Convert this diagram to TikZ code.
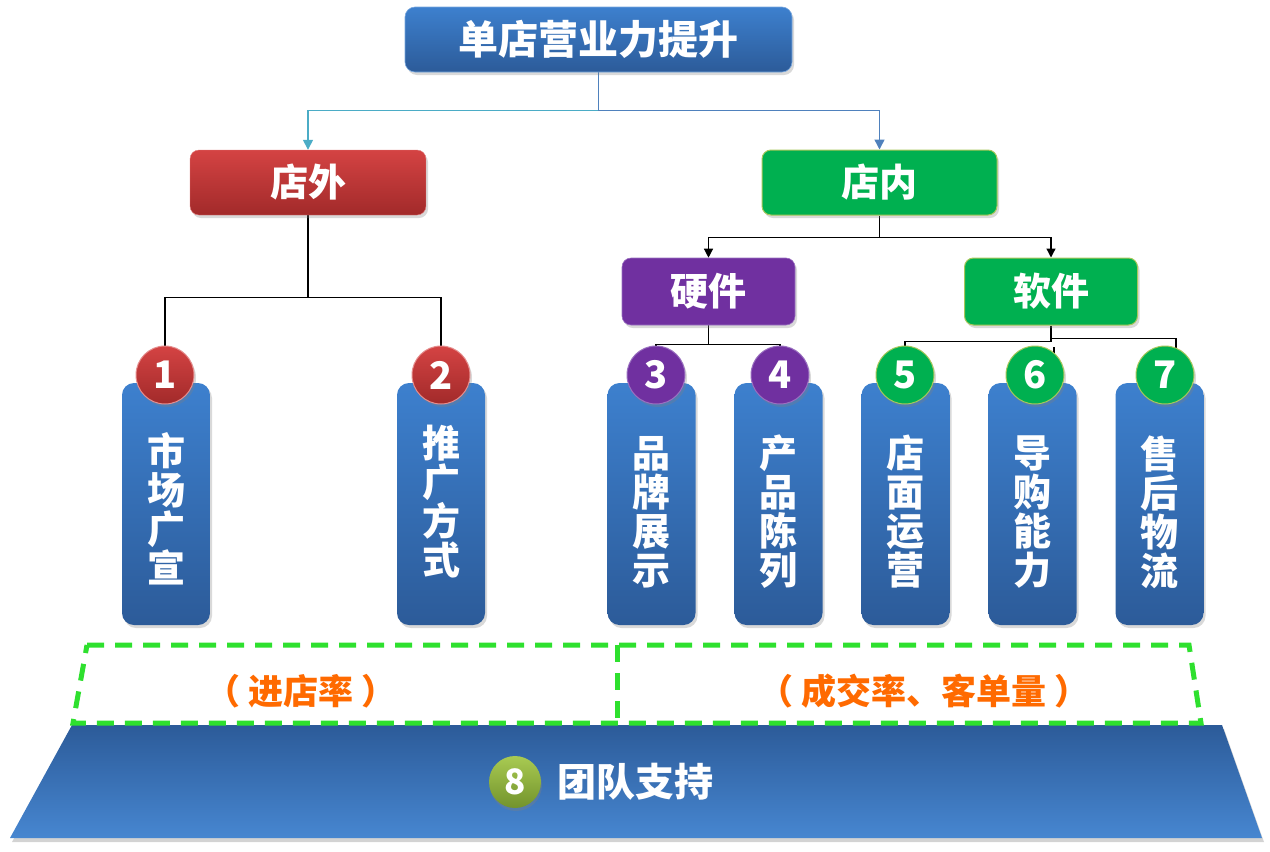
\documentclass[tikz,border=0pt]{standalone}
\usepackage{fontspec}
\setmainfont{Noto Sans CJK SC}
\usetikzlibrary{shadows,arrows.meta,backgrounds}
\definecolor{bluetop}{HTML}{3D80CE}
\definecolor{bluebot}{HTML}{2C5B99}
\definecolor{redtop}{HTML}{D44343}
\definecolor{redbot}{HTML}{A22A2A}
\definecolor{grn}{HTML}{00B050}
\definecolor{grnedge}{HTML}{A8C75A}
\definecolor{purp}{HTML}{7030A0}
\definecolor{purpedge}{HTML}{9A70C0}
\definecolor{cyanline}{HTML}{4BACC6}
\definecolor{blueline}{HTML}{4F81BD}
\definecolor{dashgreen}{HTML}{2EE02E}
\definecolor{orangetxt}{HTML}{FF6A00}
\definecolor{olivetop}{HTML}{A8CA52}
\definecolor{olivebot}{HTML}{73932C}
\begin{document}
\begin{tikzpicture}[x=1pt,y=-1pt,
  every node/.style={font=\bfseries, text=white},
  shadowed/.style={drop shadow={opacity=0.3,shadow xshift=2pt,shadow yshift=-3pt}},
  titlebox/.style={rectangle,rounded corners=10pt,top color=bluetop,bottom color=bluebot,
     draw=bluetop!70!white,line width=0.6pt,shadowed,font=\fontsize{40}{44}\bfseries},
  catbox/.style={rectangle,rounded corners=9pt,shadowed,font=\fontsize{38}{42}\bfseries},
  subbox/.style={rectangle,rounded corners=9pt,shadowed,font=\fontsize{38}{42}\bfseries,
     minimum width=173pt,minimum height=67pt},
  tallbox/.style={rectangle,rounded corners=12pt,top color=bluetop,bottom color=bluebot,
     shadowed,minimum width=88pt,minimum height=242pt,inner sep=0pt},
  talltext/.style={align=center,inner sep=0pt,font=\fontsize{38}{39}\bfseries},
  numcirc/.style={circle,minimum size=58pt,inner sep=0pt,line width=1pt,shadowed,
     font=\fontsize{38}{38}\bfseries},
  redcirc/.style={numcirc,top color=redtop,bottom color=redbot,draw=redtop!60!white},
  purpcirc/.style={numcirc,fill=purp,draw=purpedge},
  grncirc/.style={numcirc,fill=grn,draw=grnedge},
  link/.style={line width=1.3pt,black},
  blackarrow/.style={link,-{Triangle[length=9pt,width=9pt]}},
  orangelabel/.style={text=orangetxt,font=\fontsize{35}{38}\bfseries},
  dashbox/.style={draw=dashgreen,line width=5pt,dash pattern=on 17pt off 11pt}
]
\useasboundingbox (0,0) rectangle (1270,852);

% top
\node[titlebox,minimum width=387pt,minimum height=65pt] (top) at (598.5,39.5) {单店营业力提升};
\node[catbox,top color=redtop,bottom color=redbot,draw=redtop!70!white,minimum width=236pt,minimum height=65pt] (wai) at (308,182.5) {店外};
\node[catbox,fill=grn,draw=grnedge,line width=1pt,minimum width=235pt,minimum height=65pt] (nei) at (879.5,182.5) {店内};
\node[subbox,fill=purp,draw=purpedge,line width=0.6pt] (hw) at (708.5,291.5) {硬件};
\node[subbox,fill=grn,draw=grnedge,line width=1pt] (sw) at (1051,291.5) {软件};

% tall boxes
\node[tallbox] (b1) at (166,504) {};
\node[tallbox] (b2) at (441,504) {};
\node[tallbox] (b3) at (651.5,504) {};
\node[tallbox] (b4) at (778.5,504) {};
\node[tallbox] (b5) at (905.5,504) {};
\node[tallbox] (b6) at (1032.5,504) {};
\node[tallbox] (b7) at (1159.5,504) {};
\node[talltext] (t1) at ([yshift=-5pt]b1.center) {市\\场\\广\\宣};
\node[talltext] (t2) at ([yshift=2pt]b2.center) {推\\广\\方\\式};
\node[talltext] (t3) at ([yshift=-8pt]b3.center) {品\\牌\\展\\示};
\node[talltext] (t4) at ([yshift=-8pt]b4.center) {产\\品\\陈\\列};
\node[talltext] (t5) at ([yshift=-8pt]b5.center) {店\\面\\运\\营};
\node[talltext] (t6) at ([yshift=-8pt]b6.center) {导\\购\\能\\力};
\node[talltext] (t7x) at ([yshift=-8pt]b7.center) {售\\后\\物\\流};

% circles
\node[redcirc] (c1) at (165,375) {1};
\node[redcirc] (c2) at (441,375) {2};
\node[purpcirc] (c3) at (656,375) {3};
\node[purpcirc] (c4) at (780,375) {4};
\node[grncirc] (c5) at (905,375) {5};
\node[grncirc] (c6) at (1035,375) {6};
\node[grncirc] (c7) at (1165,375) {7};

\coordinate (t7) at (1176,352);
\coordinate (k1) at (1054,347);
\coordinate (k2) at (1054,356);

\begin{pgfonlayer}{background}
  \draw[cyanline,line width=1.5pt,-{Triangle[length=10pt,width=10pt]}] (top.south) -- ++(0,38) -| (wai.north);
  \draw[blueline,line width=1.5pt,-{Triangle[length=10pt,width=10pt]}] (top.south) -- ++(0,38) -| (nei.north);
  \draw[link] (wai.south) -- ++(0,82) -| (c1.north);
  \draw[link] (wai.south) -- ++(0,82) -| (c2.north);
  \draw[blackarrow] (nei.south) -- ++(0,22) -| (hw.north);
  \draw[blackarrow] (nei.south) -- ++(0,22) -| (sw.north);
  \draw[link] (hw.south) -- ++(0,19) -| (c3.north);
  \draw[link] (hw.south) -- ++(0,19) -| (c4.north);
  \draw[link] (sw.south) -- ++(0,16) -| (c5.north);
  \draw[link] (sw.south) -- ++(0,13) -| (t7);
  \draw[link] (k1) -- (k2);
\end{pgfonlayer}

% bottom base
\path[top color=bluebot,bottom color=bluetop!95!white,drop shadow={opacity=0.35,shadow xshift=2pt,shadow yshift=-4pt}]
  (72,725) -- (1222,725) -- (1262,838) -- (10,838) -- cycle;
\node[circle,minimum size=52pt,inner sep=0pt,top color=olivetop,bottom color=olivebot,
  drop shadow={opacity=0.35,shadow xshift=1pt,shadow yshift=-3pt},font=\fontsize{35}{35}\bfseries] (c8) at (515,782) {8};
\node[anchor=west,font=\fontsize{39}{42}\bfseries] (team) at (554,782) {团队支持};

% dashed frame
\draw[dashbox] (87,645) -- (1189,645) -- (1201,723) -- (73,723) -- cycle;
\draw[dashbox] (617,645) -- (617,723);
\node[orangelabel] (l1) at (301,691) {（ 进店率 ）};
\node[orangelabel] (l2) at (924,691) {（ 成交率、客单量 ）};
\end{tikzpicture}
\end{document}
